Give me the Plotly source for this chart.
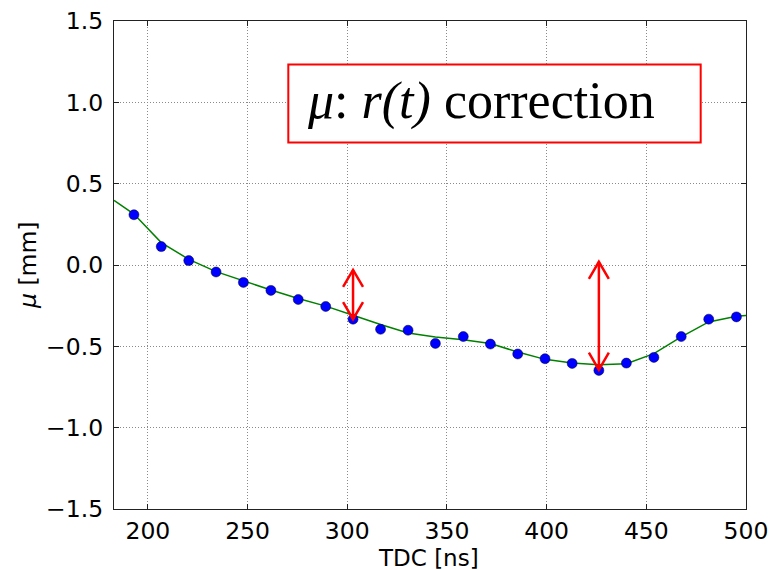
import plotly.graph_objects as go

# Measured points (TDC [ns], mu [mm])
tdc = [193.0, 206.7, 220.5, 234.2, 247.9, 261.7, 275.4, 289.2, 302.9, 316.7, 330.5, 344.2,
       358.2, 371.8, 385.5, 399.2, 412.8, 426.2, 440.0, 453.8, 467.5, 481.3, 495.2]
mu = [0.309, 0.113, 0.027, -0.043, -0.107, -0.156, -0.212, -0.255, -0.333, -0.395, -0.401, -0.482,
      -0.440, -0.486, -0.547, -0.576, -0.605, -0.648, -0.603, -0.568, -0.440, -0.333, -0.319]

# Smoothed correction curve
fit_x = [183.0, 193.0, 206.7, 220.5, 234.2, 247.9, 261.7, 275.4, 289.2, 302.9, 316.7, 330.5, 344.2,
         358.2, 371.8, 385.5, 399.2, 412.8, 426.2, 440.0, 453.8, 467.5, 481.3, 495.2, 500.0]
fit_y = [0.397, 0.313, 0.138, 0.035, -0.041, -0.099, -0.154, -0.206, -0.253, -0.309, -0.366, -0.418, -0.442,
         -0.459, -0.483, -0.535, -0.580, -0.603, -0.613, -0.607, -0.545, -0.442, -0.350, -0.315, -0.310]

# Double-headed arrows: x position, top y, bottom y
arrow_x = [302.9, 426.2]
arrow_top = [-0.03, 0.02]
arrow_bot = [-0.333, -0.644]

x_ticks = [200, 250, 300, 350, 400, 450, 500]
y_ticks = [1.5, 1.0, 0.5, 0.0, -0.5, -1.0, -1.5]

X_RANGE = [183, 500]
Y_RANGE = [-1.5, 1.5]

fig = go.Figure()
fig.add_trace(go.Scatter(x=fit_x, y=fit_y, mode="lines",
                         line=dict(color="#008000", width=1.5), hoverinfo="skip"))
fig.add_trace(go.Scatter(x=tdc, y=mu, mode="markers",
                         marker=dict(color="#0000ff", size=10, line=dict(color="#000033", width=0.5))))

RED = "#ff0000"
head_dx = 5.0      # data units (x)
head_dy = 0.105    # data units (y)
for ax_, yt, yb in zip(arrow_x, arrow_top, arrow_bot):
    fig.add_shape(type="line", x0=ax_, x1=ax_, y0=yb, y1=yt, xref="x", yref="y",
                  line=dict(color=RED, width=2.5))
    fig.add_shape(type="path", xref="x", yref="y",
                  path=f"M {ax_-head_dx} {yt-head_dy} L {ax_} {yt} L {ax_+head_dx} {yt-head_dy}",
                  line=dict(color=RED, width=2.5))
    fig.add_shape(type="path", xref="x", yref="y",
                  path=f"M {ax_-head_dx} {yb+head_dy} L {ax_} {yb} L {ax_+head_dx} {yb+head_dy}",
                  line=dict(color=RED, width=2.5))

# Title box
fig.add_shape(type="rect", xref="paper", yref="paper", x0=0.2758, x1=0.9283, y0=0.7512, y1=0.9108,
              line=dict(color=RED, width=2), fillcolor="white", layer="above")
fig.add_annotation(xref="paper", yref="paper", x=0.303, y=0.836, xanchor="left", yanchor="middle",
                   text="<i>μ</i>: <i>r(t)</i> correction", showarrow=False,
                   font=dict(family="Liberation Serif", size=52, color="black"))

# Axis titles placed explicitly
fig.add_annotation(xref="paper", yref="paper", x=0.498, y=-0.101, xanchor="center", yanchor="middle",
                   text="TDC [ns]", showarrow=False, borderpad=0,
                   font=dict(family="DejaVu Sans", size=23, color="black"))
fig.add_annotation(xref="paper", yref="paper", x=-0.136, y=0.5, xanchor="center", yanchor="middle",
                   text="<i>μ</i> [mm]", showarrow=False, textangle=-90,
                   font=dict(family="DejaVu Sans", size=23.5, color="black"))

axis_common = dict(showline=True, linecolor="#222222", linewidth=1.2, mirror="ticks",
                   ticks="inside", ticklen=5, tickcolor="#222222",
                   showgrid=True, gridcolor="#8a8a8a", griddash="1px,2px", gridwidth=1,
                   zeroline=False, automargin=False,
                   tickfont=dict(family="DejaVu Sans", size=23.5, color="black"))

fig.update_xaxes(range=X_RANGE, tickvals=x_ticks, ticklabelstandoff=1, **axis_common)
fig.update_yaxes(range=Y_RANGE, tickvals=y_ticks, tickformat=".1f", ticklabelstandoff=5, **axis_common)

fig.update_layout(width=781, height=570, showlegend=False,
                  paper_bgcolor="white", plot_bgcolor="white",
                  margin=dict(l=114, r=35, t=21, b=60.5, autoexpand=False))

fig.write_html("out.html", config={"displayModeBar": False},
               post_script="document.body.style.margin='0';document.body.style.overflow='hidden';")
